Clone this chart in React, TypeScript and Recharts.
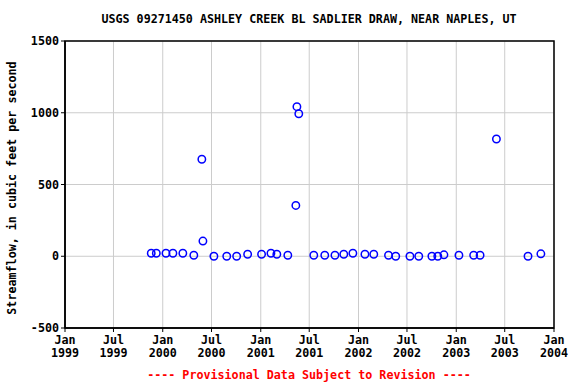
import React from "react";
import { ScatterChart, Scatter, XAxis, YAxis, CartesianGrid, ReferenceArea } from "recharts";

const sampleDates: string[] = [
  "1999-11-19", "1999-12-08", "2000-01-13", "2000-02-08", "2000-03-16", "2000-04-26",
  "2000-05-26", "2000-05-30", "2000-07-10", "2000-08-27", "2000-10-03", "2000-11-13",
  "2001-01-04", "2001-02-08", "2001-03-02", "2001-04-12", "2001-05-12", "2001-05-16",
  "2001-05-23", "2001-07-18", "2001-08-28", "2001-10-05", "2001-11-07", "2001-12-11",
  "2002-01-25", "2002-02-27", "2002-04-23", "2002-05-20", "2002-07-12", "2002-08-14",
  "2002-10-02", "2002-10-24", "2002-11-16", "2003-01-11", "2003-03-07", "2003-03-31",
  "2003-05-31", "2003-09-26", "2003-11-13",
];
const streamflow: number[] = [
  21, 21, 21, 21, 21, 7,
  676, 106, 0, 0, 0, 14,
  14, 21, 14, 7, 354, 1042,
  993, 7, 7, 7, 14, 21,
  14, 14, 7, 0, 0, 0,
  0, 0, 10, 7, 7, 7,
  817, 0, 17,
];
const xTickDates: string[] = [
  "1999-01-01", "1999-07-01", "2000-01-01", "2000-07-01", "2001-01-01", "2001-07-01",
  "2002-01-01", "2002-07-01", "2003-01-01", "2003-07-01", "2004-01-01",
];
const xTickLabels: string[][] = [
  ["Jan", "1999"], ["Jul", "1999"], ["Jan", "2000"], ["Jul", "2000"], ["Jan", "2001"], ["Jul", "2001"],
  ["Jan", "2002"], ["Jul", "2002"], ["Jan", "2003"], ["Jul", "2003"], ["Jan", "2004"],
];
const yTicks: number[] = [-500, 0, 500, 1000, 1500];

const toTs = (s: string) => {
  const [y, m, d] = s.split("-").map(Number);
  return Date.UTC(y, m - 1, d);
};

const data = sampleDates.map((d, i) => ({ t: toTs(d), v: streamflow[i] }));
const xTicks = xTickDates.map(toTs);
const xMin = xTicks[0];
const xMax = xTicks[xTicks.length - 1];

const FONT = "'DejaVu Sans Mono', monospace";
const FS = 11.7;

const XTick = (props: any) => {
  const { x, y, payload } = props;
  const idx = xTicks.indexOf(payload.value);
  const lbl = idx >= 0 ? xTickLabels[idx] : ["", ""];
  return (
    <text x={x} y={y} textAnchor="middle" fontFamily={FONT} fontWeight="bold" fontSize={FS} fill="#000">
      <tspan x={x} dy={10}>{lbl[0]}</tspan>
      <tspan x={x} dy={13}>{lbl[1]}</tspan>
    </text>
  );
};

const YTick = (props: any) => {
  const { x, y, payload } = props;
  return (
    <text x={x} y={y} dy={4} textAnchor="end" fontFamily={FONT} fontWeight="bold" fontSize={FS} fill="#000">
      {payload.value}
    </text>
  );
};

const Marker = (props: any) => (
  <circle cx={props.cx} cy={props.cy} r={3.7} fill="none" stroke="#0000ff" strokeWidth={1.5} />
);

export default function App() {
  return (
    <div style={{ position: "absolute", left: 0, top: 0, width: 576, height: 384, background: "#fff" }}>
      <div
        style={{
          position: "absolute", left: 21, top: 12, width: 576, textAlign: "center",
          fontFamily: FONT, fontWeight: "bold", fontSize: FS, color: "#000", whiteSpace: "nowrap",
        }}
      >
        USGS 09271450 ASHLEY CREEK BL SADLIER DRAW, NEAR NAPLES, UT
      </div>
      <div style={{ position: "absolute", left: 12, top: 188, width: 0, height: 0 }}>
        <div
          style={{
            position: "absolute", transform: "translate(-50%, -50%) rotate(-90deg)",
            whiteSpace: "nowrap", fontFamily: FONT, fontWeight: "bold", fontSize: FS, color: "#000",
          }}
        >
          Streamflow, in cubic feet per second
        </div>
      </div>
      <ScatterChart width={576} height={384} margin={{ top: 41, right: 22, bottom: 40, left: 0 }}>
        <CartesianGrid stroke="#cccccc" strokeWidth={1} />
        <XAxis
          dataKey="t"
          type="number"
          domain={[xMin, xMax]}
          ticks={xTicks}
          interval={0}
          tick={<XTick />}
          tickSize={4}
          tickLine={{ stroke: "#000" }}
          axisLine={{ stroke: "#000", strokeWidth: 1.5 }}
          height={16}
          allowDataOverflow
        />
        <YAxis
          dataKey="v"
          type="number"
          domain={[-500, 1500]}
          ticks={yTicks}
          interval={0}
          tick={<YTick />}
          tickSize={4}
          tickLine={{ stroke: "#000" }}
          axisLine={{ stroke: "#000", strokeWidth: 1.5 }}
          width={65}
          allowDataOverflow
        />
        <ReferenceArea x1={xMin} x2={xMax} y1={-500} y2={1500} fill="none" stroke="#000" strokeWidth={1.5} ifOverflow="visible" />
        <Scatter data={data} shape={<Marker />} isAnimationActive={false} />
      </ScatterChart>
      <div
        style={{
          position: "absolute", left: 21, top: 368, width: 576, textAlign: "center",
          fontFamily: FONT, fontWeight: "bold", fontSize: FS, color: "#ff0000", whiteSpace: "nowrap",
        }}
      >
        ---- Provisional Data Subject to Revision ----
      </div>
    </div>
  );
}
